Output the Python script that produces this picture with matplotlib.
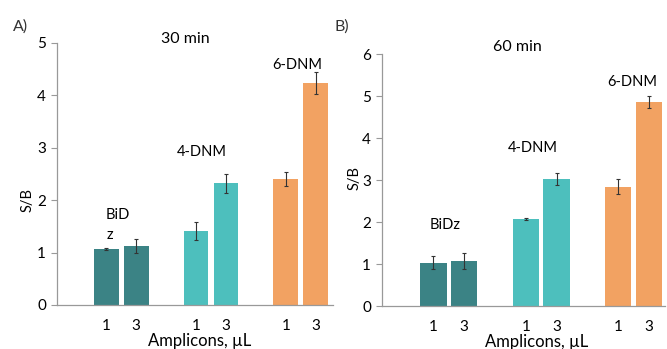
import numpy as np
import matplotlib.pyplot as plt

plt.rcParams['font.family'] = ['Lato', 'DejaVu Sans']

W, H = 667, 349

# data
doses = ['1', '3', '1', '3', '1', '3']
groups = ['BiDz', '4-DNM', '6-DNM']
vals_30 = [1.07, 1.13, 1.42, 2.32, 2.41, 4.23]
err_30 = [0.02, 0.13, 0.17, 0.18, 0.13, 0.21]
vals_60 = [1.03, 1.07, 2.07, 3.03, 2.84, 4.86]
err_60 = [0.15, 0.19, 0.02, 0.14, 0.18, 0.15]

colors = ['#3b8385', '#3b8385', '#4dbfbd', '#4dbfbd', '#f2a262', '#f2a262']
xpos = np.array([0, 1, 3, 4, 6, 7])


def px(x, y):
    return x / W, 1 - y / H


def draw(ax, vals, errs, ymax, xlim, width):
    ax.bar(xpos, vals, width=width, color=colors)
    ax.errorbar(xpos, vals, yerr=errs, fmt='none', ecolor='#333333',
                elinewidth=0.8, capsize=1.5, capthick=0.8)
    ax.set_ylim(0, ymax)
    ax.set_xlim(*xlim)
    ax.set_yticks(range(ymax + 1))
    ax.set_xticks(xpos)
    ax.set_xticklabels(doses)
    ax.tick_params(axis='x', length=0, pad=10, labelsize=11)
    ax.tick_params(axis='y', length=4, color='#999999', labelsize=11, pad=4)
    for s in ['top', 'right']:
        ax.spines[s].set_visible(False)
    for s in ['left', 'bottom']:
        ax.spines[s].set_color('#999999')
        ax.spines[s].set_linewidth(0.9)


fig = plt.figure(figsize=(W / 100, H / 100), dpi=100)

# panel A
ax1 = fig.add_axes([57 / W, 1 - 305 / H, (333 - 57) / W, (305 - 43) / H])
draw(ax1, vals_30, err_30, 5, (-1.65, 7.58), 0.83)

# panel B
ax2 = fig.add_axes([382 / W, 1 - 306 / H, (665 - 382) / W, (306 - 54) / H])
draw(ax2, vals_60, err_60, 6, (-1.67, 7.52), 0.86)

fs = 10.5
fig.text(*px(13, 27), 'A)', fontsize=11.5, ha='left', va='center', color='#333333')
fig.text(*px(185, 39), '30 min', fontsize=11.5, ha='center', va='center')
fig.text(*px(297, 65), '6-DNM', fontsize=fs, ha='center', va='center')
fig.text(*px(202, 152), '4-DNM', fontsize=fs, ha='center', va='center')
fig.text(*px(118, 215), 'BiD', fontsize=fs, ha='center', va='center')
fig.text(*px(110, 235), 'z', fontsize=fs, ha='center', va='center')
fig.text(*px(28, 200), 'S/B', fontsize=fs, ha='center', va='center', rotation=90)
fig.text(*px(200, 341), 'Amplicons, µL', fontsize=12, ha='center', va='center')

fig.text(*px(335, 27), 'B)', fontsize=11.5, ha='left', va='center', color='#333333')
fig.text(*px(517, 47), '60 min', fontsize=11.5, ha='center', va='center')
fig.text(*px(632, 82), '6-DNM', fontsize=fs, ha='center', va='center')
fig.text(*px(533, 148), '4-DNM', fontsize=fs, ha='center', va='center')
fig.text(*px(445, 225), 'BiDz', fontsize=fs, ha='center', va='center')
fig.text(*px(355, 178), 'S/B', fontsize=fs, ha='center', va='center', rotation=90)
fig.text(*px(537, 342), 'Amplicons, µL', fontsize=12, ha='center', va='center')

fig.savefig('out.png', dpi=100)
